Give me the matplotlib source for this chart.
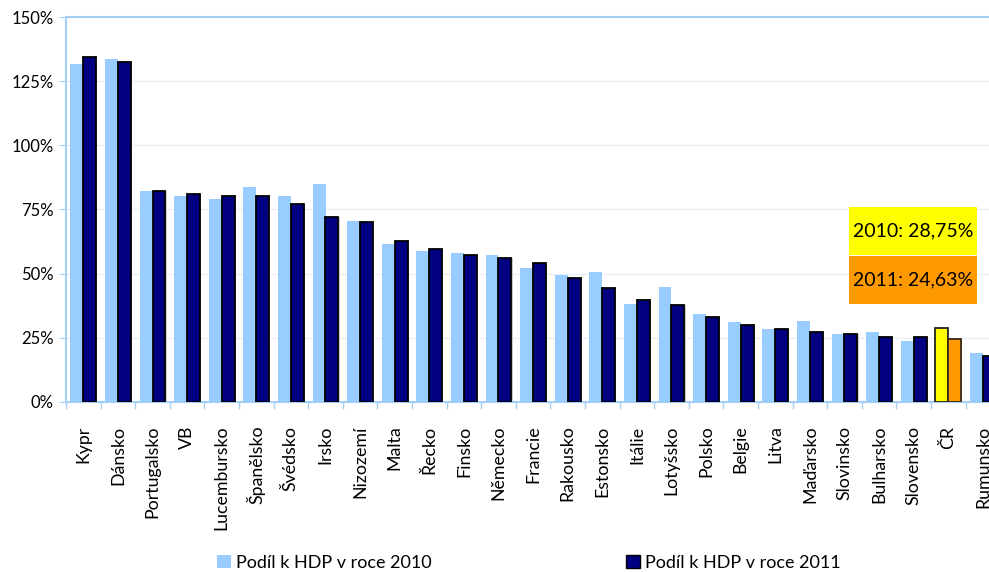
import numpy as np
import matplotlib
matplotlib.use("Agg")
import matplotlib.pyplot as plt
from matplotlib.patches import Patch, Rectangle
from matplotlib.ticker import FuncFormatter, MultipleLocator

plt.rcParams['font.family'] = ['Lato', 'DejaVu Sans']

# Data
countries = ["Kypr", "Dánsko", "Portugalsko", "VB", "Lucembursko", "Španělsko",
             "Švédsko", "Irsko", "Nizozemí", "Malta", "Řecko", "Finsko",
             "Německo", "Francie", "Rakousko", "Estonsko", "Itálie", "Lotyšsko",
             "Polsko", "Belgie", "Litva", "Maďarsko", "Slovinsko", "Bulharsko",
             "Slovensko", "ČR", "Rumunsko"]
share_2010 = [131.7, 133.6, 82.2, 80.2, 79.1, 83.8, 80.2, 85.0, 70.5, 61.5,
              58.8, 58.0, 57.3, 52.2, 49.5, 50.6, 38.2, 44.8, 34.3, 31.2,
              28.4, 31.6, 26.5, 27.3, 23.8, 28.75, 19.1]
share_2011 = [134.3, 132.5, 82.3, 81.1, 80.4, 80.4, 77.3, 71.9, 70.0, 62.8,
              59.5, 57.4, 56.2, 54.1, 48.3, 44.4, 39.6, 37.7, 33.2, 29.9,
              28.6, 27.3, 26.5, 25.3, 25.3, 24.63, 18.0]
legend_labels = ["Podíl k HDP v roce 2010", "Podíl k HDP v roce 2011"]
highlight = "ČR"
box_texts = ["2010: 28,75%", "2011: 24,63%"]

LIGHT = "#99ccff"
NAVY = "#000080"
YELLOW = "#ffff00"
ORANGE = "#ff9900"
AXIS_BLUE = "#a6cff5"

fig = plt.figure(figsize=(9.89, 5.72), dpi=100)
n = len(countries)
ax = fig.add_axes([66 / 989, 1 - 402 / 572, n * 34.6 / 989, (402 - 17) / 572])

x = np.arange(n)
w = 0.375
c2010 = [YELLOW if c == highlight else LIGHT for c in countries]
c2011 = [ORANGE if c == highlight else NAVY for c in countries]
e2010 = ["#222222" if c == highlight else "none" for c in countries]
e2011 = ["#3a2a10" if c == highlight else "black" for c in countries]
ax.bar(x - w / 2, share_2010, w, color=c2010, edgecolor=e2010, linewidth=1.3, zorder=3)
# soft shadow behind the 2011 bars
ax.bar(x + w / 2 + 0.035, share_2011, w, color="#c8c8c8", linewidth=0, zorder=2.5)
ax.bar(x + w / 2, share_2011, w, color=c2011, edgecolor=e2011, linewidth=1.3, zorder=3)

ax.set_xlim(-0.5, n - 0.5)
ax.set_ylim(0, 150)
ax.yaxis.set_major_locator(MultipleLocator(25))
ax.yaxis.set_major_formatter(FuncFormatter(lambda v, p: f"{v:.0f}%"))
ax.grid(axis="y", color="#e8f0f8", linewidth=1, zorder=0)

ax.set_xticks(x)
ax.set_xticklabels(countries, rotation=90, fontsize=12.8, va="top", ha="center")
ax.set_xticks(np.arange(n + 1) - 0.5, minor=True)
ax.tick_params(axis="x", which="major", length=0, pad=17)
ax.tick_params(axis="x", which="minor", length=5, color=AXIS_BLUE, width=1)
ax.tick_params(axis="y", length=5, color=AXIS_BLUE, labelsize=12, pad=4)

for side in ["left", "bottom", "top"]:
    ax.spines[side].set_color(AXIS_BLUE)
    ax.spines[side].set_linewidth(1.5)
ax.spines["right"].set_visible(False)

# legend entries spread along the bottom
h1 = Patch(facecolor=LIGHT, edgecolor="none")
h2 = Patch(facecolor=NAVY, edgecolor="black")
fig.legend([h1], [legend_labels[0]], loc="center left", bbox_to_anchor=(201 / 989, 1 - 563 / 572),
           frameon=False, fontsize=13, handlelength=0.75, handleheight=0.75, handletextpad=0.3)
fig.legend([h2], [legend_labels[1]], loc="center left", bbox_to_anchor=(610 / 989, 1 - 563 / 572),
           frameon=False, fontsize=13, handlelength=0.75, handleheight=0.75, handletextpad=0.3)

# highlighted value boxes
bx, bw, bh = 849 / 989, 128 / 989, 48 / 572
for top, col, txt in [(207, YELLOW, box_texts[0]), (256, ORANGE, box_texts[1])]:
    y0 = 1 - (top + 48) / 572
    fig.patches.append(Rectangle((bx, y0), bw, bh, transform=fig.transFigure,
                                 facecolor=col, edgecolor="none", zorder=5))
    fig.text(bx + bw / 2, y0 + bh / 2, txt, ha="center", va="center", fontsize=14, zorder=6)

fig.savefig("out.png", dpi=100)
